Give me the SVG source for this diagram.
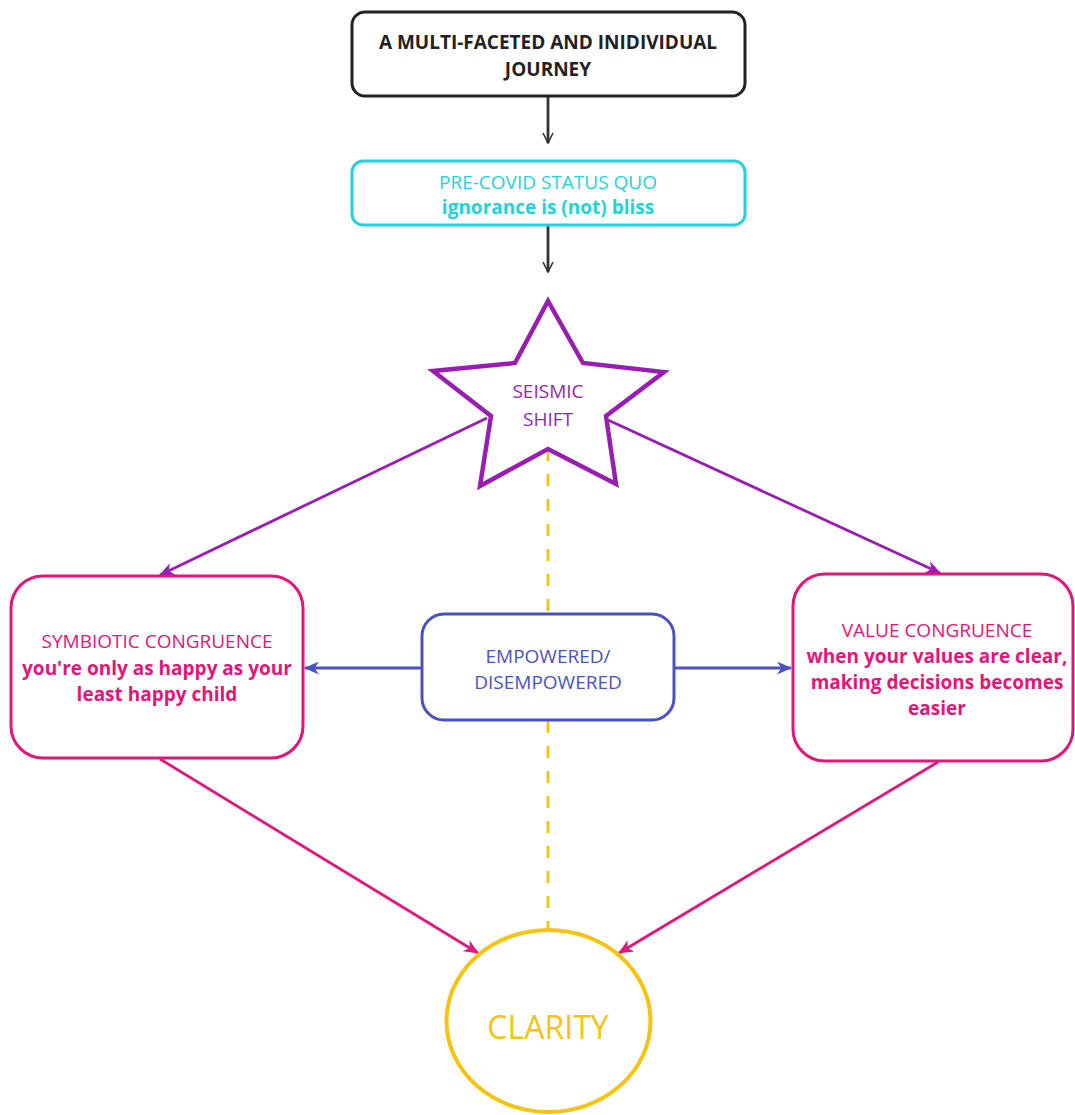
<svg xmlns="http://www.w3.org/2000/svg" width="1075" height="1115" viewBox="0 0 1075 1115">
  <style>
    text { font-family: "Open Sans", "Noto Sans", "Liberation Sans", sans-serif; text-anchor: middle; font-size: 19px; }
    .b { font-weight: 700; }
    .box { fill: #ffffff; stroke-width: 3; }
    .con { fill: none; stroke-width: 2.8; }
  </style>
  <defs>
    <marker id="ahGray" viewBox="0 0 12 12" refX="11" refY="6" markerWidth="12" markerHeight="12" markerUnits="userSpaceOnUse" orient="auto">
      <path d="M1,1 L11,6 L1,11" fill="none" stroke="#333333" stroke-width="1.6"/>
    </marker>
    <marker id="ahPurple" viewBox="0 0 14 12" refX="13" refY="6" markerWidth="15" markerHeight="13" markerUnits="userSpaceOnUse" orient="auto">
      <path d="M0,0 L14,6 L0,12 L4,6 z" fill="#9a1db3"/>
    </marker>
    <marker id="ahBlue" viewBox="0 0 14 12" refX="13" refY="6" markerWidth="15" markerHeight="13" markerUnits="userSpaceOnUse" orient="auto">
      <path d="M0,0 L14,6 L0,12 L4,6 z" fill="#4a52c1"/>
    </marker>
    <marker id="ahPink" viewBox="0 0 14 12" refX="13" refY="6" markerWidth="15" markerHeight="13" markerUnits="userSpaceOnUse" orient="auto">
      <path d="M0,0 L14,6 L0,12 L4,6 z" fill="#e3157a"/>
    </marker>
  </defs>

  <rect width="1075" height="1115" fill="#ffffff"/>

  <!-- connectors -->
  <g id="connectors">
    <line class="con" x1="548" y1="97" x2="548" y2="143" stroke="#333333" stroke-width="1.6" marker-end="url(#ahGray)"/>
    <line class="con" x1="548" y1="226" x2="548" y2="272" stroke="#333333" stroke-width="1.6" marker-end="url(#ahGray)"/>
    <line class="con" x1="548" y1="449" x2="548" y2="614" stroke="#f7c30f" stroke-dasharray="12 13"/>
    <line class="con" x1="548" y1="721" x2="548" y2="928" stroke="#f7c30f" stroke-dasharray="12 13"/>
    <line class="con" x1="487" y1="418" x2="160" y2="575" stroke="#9a1db3" marker-end="url(#ahPurple)"/>
    <line class="con" x1="608" y1="420" x2="940" y2="573" stroke="#9a1db3" marker-end="url(#ahPurple)"/>
    <line class="con" x1="421" y1="668" x2="305" y2="668" stroke="#4a52c1" marker-end="url(#ahBlue)"/>
    <line class="con" x1="674" y1="668" x2="791" y2="668" stroke="#4a52c1" marker-end="url(#ahBlue)"/>
    <line class="con" x1="160" y1="759" x2="478" y2="953" stroke="#e3157a" marker-end="url(#ahPink)"/>
    <line class="con" x1="938" y1="762" x2="619" y2="953" stroke="#e3157a" marker-end="url(#ahPink)"/>
  </g>

  <!-- journey header -->
  <g id="journey">
    <rect class="box" x="352" y="12" width="393" height="84" rx="13" stroke="#222222"/>
    <text class="b" x="548" y="49" fill="#222222">A MULTI-FACETED AND INIDIVIDUAL</text>
    <text class="b" x="548" y="76" fill="#222222">JOURNEY</text>
  </g>

  <!-- pre-covid status quo -->
  <g id="status-quo">
    <rect class="box" x="352" y="161" width="393" height="64" rx="11" stroke="#1fd2dc"/>
    <text x="548" y="189" fill="#1fd2dc">PRE-COVID STATUS QUO</text>
    <text class="b" x="548" y="214" fill="#1fd2dc">ignorance is (not) bliss</text>
  </g>

  <!-- seismic shift star -->
  <g id="seismic-shift">
    <polygon points="548,301 583,363 664,372 606,416 616,484 548,449 480,486 491,416 433,371 515,363" fill="#ffffff" stroke="#9a1db3" stroke-width="4.5" stroke-linejoin="miter"/>
    <text x="548" y="398" fill="#9a1db3">SEISMIC</text>
    <text x="548" y="426" fill="#9a1db3">SHIFT</text>
  </g>

  <!-- symbiotic congruence -->
  <g id="symbiotic">
    <rect class="box" x="11" y="576" width="292" height="182" rx="32" stroke="#e3157a"/>
    <text x="157" y="648" fill="#e3157a">SYMBIOTIC CONGRUENCE</text>
    <text class="b" x="157" y="675" fill="#e3157a">you're only as happy as your</text>
    <text class="b" x="157" y="701" fill="#e3157a">least happy child</text>
  </g>

  <!-- empowered / disempowered -->
  <g id="empowered">
    <rect class="box" x="422" y="614" width="252" height="106" rx="22" stroke="#4a52c1"/>
    <text x="548" y="663" fill="#4a52c1">EMPOWERED/</text>
    <text x="548" y="689" fill="#4a52c1">DISEMPOWERED</text>
  </g>

  <!-- value congruence -->
  <g id="value">
    <rect class="box" x="793" y="574" width="280" height="187" rx="32" stroke="#e3157a"/>
    <text x="937" y="637" fill="#e3157a">VALUE CONGRUENCE</text>
    <text class="b" x="937" y="663" fill="#e3157a">when your values are clear,</text>
    <text class="b" x="937" y="689" fill="#e3157a">making decisions becomes</text>
    <text class="b" x="937" y="715" fill="#e3157a">easier</text>
  </g>

  <!-- clarity -->
  <g id="clarity">
    <ellipse cx="548.5" cy="1021" rx="102" ry="91" fill="#ffffff" stroke="#f7c30f" stroke-width="4"/>
    <text x="548" y="1039" style="font-size:32px" fill="#f7c30f">CLARITY</text>
  </g>
</svg>
